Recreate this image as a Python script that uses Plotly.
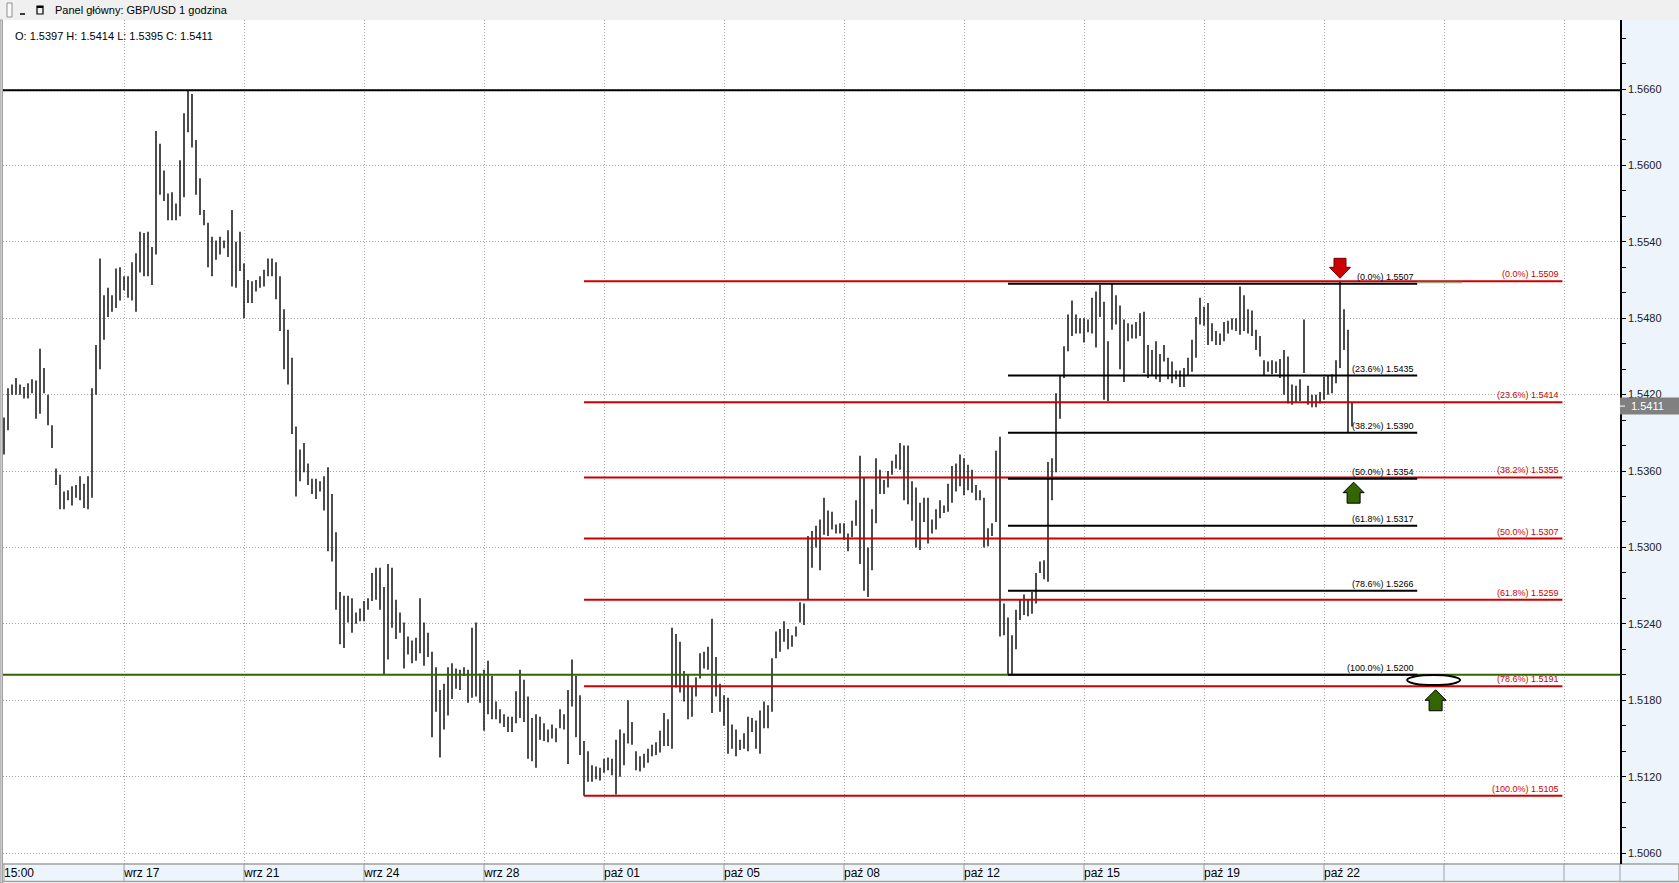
import plotly.graph_objects as go

# GBP/USD 1h bars (two-hour merged): high / low per bar
highs = [
    1.5402, 1.5425, 1.5428, 1.5433, 1.5428, 1.5426, 1.5429, 1.5432, 1.5431, 1.5456,
    1.5441, 1.5420, 1.5396, 1.5362, 1.5357, 1.5344, 1.5345, 1.5348, 1.5349, 1.5356,
    1.5350, 1.5356, 1.5425, 1.5459, 1.5527, 1.5498, 1.5504, 1.5498, 1.5519, 1.5520,
    1.5513, 1.5513, 1.5524, 1.5531, 1.5548, 1.5547, 1.5548, 1.5536, 1.5627, 1.5617,
    1.5596, 1.5578, 1.5579, 1.5570, 1.5604, 1.5641, 1.5659, 1.5656, 1.5620, 1.5590,
    1.5565, 1.5555, 1.5544, 1.5541, 1.5544, 1.5541, 1.5549, 1.5565, 1.5540, 1.5548,
    1.5523, 1.5510, 1.5509, 1.5510, 1.5513, 1.5518, 1.5527, 1.5527, 1.5524, 1.5513,
    1.5487, 1.5471, 1.5449, 1.5395, 1.5377, 1.5382, 1.5366, 1.5354, 1.5354, 1.5352,
    1.5356, 1.5363, 1.5342, 1.5312, 1.5265, 1.5262, 1.5262, 1.5260, 1.5249, 1.5252,
    1.5258, 1.5260, 1.5280, 1.5284, 1.5284, 1.5269, 1.5287, 1.5284, 1.5259, 1.5249,
    1.5241, 1.5230, 1.5227, 1.5229, 1.5260, 1.5241, 1.5233, 1.5218, 1.5206, 1.5188,
    1.5193, 1.5206, 1.5209, 1.5205, 1.5204, 1.5206, 1.5204, 1.5237, 1.5241, 1.5201,
    1.5204, 1.5211, 1.5199, 1.5179, 1.5173, 1.5169, 1.5167, 1.5167, 1.5187, 1.5204,
    1.5196, 1.5183, 1.5166, 1.5169, 1.5167, 1.5162, 1.5157, 1.5161, 1.5158, 1.5173,
    1.5169, 1.5188, 1.5212, 1.5199, 1.5184, 1.5148, 1.5140, 1.5129, 1.5128, 1.5127,
    1.5134, 1.5135, 1.5134, 1.5149, 1.5157, 1.5154, 1.5180, 1.5163, 1.5140, 1.5136,
    1.5138, 1.5142, 1.5145, 1.5147, 1.5156, 1.5170, 1.5165, 1.5237, 1.5232, 1.5226,
    1.5203, 1.5200, 1.5191, 1.5198, 1.5217, 1.5218, 1.5222, 1.5244, 1.5214, 1.5193,
    1.5184, 1.5182, 1.5161, 1.5157, 1.5149, 1.5154, 1.5167, 1.5166, 1.5164, 1.5172,
    1.5179, 1.5176, 1.5213, 1.5234, 1.5236, 1.5242, 1.5236, 1.5231, 1.5238, 1.5257,
    1.5256, 1.5309, 1.5313, 1.5317, 1.5322, 1.5339, 1.5329, 1.5328, 1.5318, 1.5319,
    1.5319, 1.5311, 1.5321, 1.5337, 1.5372, 1.5355, 1.5300, 1.5330, 1.5370, 1.5361,
    1.5353, 1.5360, 1.5368, 1.5373, 1.5382, 1.5380, 1.5380, 1.5352, 1.5347, 1.5335,
    1.5339, 1.5339, 1.5322, 1.5330, 1.5337, 1.5333, 1.5350, 1.5364, 1.5366, 1.5373,
    1.5370, 1.5365, 1.5361, 1.5349, 1.5345, 1.5339, 1.5315, 1.5319, 1.5376, 1.5387,
    1.5256, 1.5245, 1.5231, 1.5251, 1.5259, 1.5263, 1.5259, 1.5265, 1.5280, 1.5289,
    1.5290, 1.5367, 1.5370, 1.5421, 1.5435, 1.5458, 1.5483, 1.5494, 1.5483, 1.5480,
    1.5480, 1.5479, 1.5496, 1.5501, 1.5506, 1.5493, 1.5462, 1.5507, 1.5498, 1.5490,
    1.5479, 1.5476, 1.5475, 1.5477, 1.5484, 1.5485, 1.5459, 1.5455, 1.5462, 1.5452,
    1.5459, 1.5449, 1.5446, 1.5439, 1.5439, 1.5441, 1.5449, 1.5463, 1.5481, 1.5496,
    1.5489, 1.5492, 1.5476, 1.5470, 1.5468, 1.5477, 1.5478, 1.5480, 1.5480, 1.5505,
    1.5498, 1.5487, 1.5486, 1.5471, 1.5466, 1.5447, 1.5446, 1.5447, 1.5446, 1.5448,
    1.5455, 1.5450, 1.5428, 1.5427, 1.5432, 1.5479, 1.5427, 1.5420, 1.5420, 1.5422,
    1.5434, 1.5435, 1.5436, 1.5447, 1.5509, 1.5487, 1.5471, 1.5414,
]
lows = [
    1.5373, 1.5392, 1.5420, 1.5420, 1.5420, 1.5417, 1.5417, 1.5421, 1.5401, 1.5405,
    1.5421, 1.5396, 1.5378, 1.5349, 1.5330, 1.5330, 1.5337, 1.5333, 1.5339, 1.5337,
    1.5331, 1.5330, 1.5339, 1.5420, 1.5440, 1.5463, 1.5481, 1.5485, 1.5488, 1.5494,
    1.5502, 1.5496, 1.5494, 1.5485, 1.5516, 1.5513, 1.5513, 1.5506, 1.5530, 1.5577,
    1.5572, 1.5557, 1.5557, 1.5557, 1.5560, 1.5575, 1.5626, 1.5614, 1.5577, 1.5561,
    1.5553, 1.5520, 1.5513, 1.5526, 1.5530, 1.5535, 1.5528, 1.5505, 1.5504, 1.5517,
    1.5480, 1.5492, 1.5492, 1.5501, 1.5504, 1.5505, 1.5513, 1.5513, 1.5495, 1.5470,
    1.5440, 1.5428, 1.5389, 1.5340, 1.5352, 1.5359, 1.5349, 1.5342, 1.5338, 1.5344,
    1.5329, 1.5297, 1.5289, 1.5251, 1.5224, 1.5221, 1.5241, 1.5233, 1.5240, 1.5242,
    1.5242, 1.5251, 1.5258, 1.5259, 1.5251, 1.5200, 1.5212, 1.5237, 1.5228, 1.5233,
    1.5205, 1.5216, 1.5209, 1.5211, 1.5217, 1.5207, 1.5214, 1.5151, 1.5171, 1.5135,
    1.5157, 1.5168, 1.5181, 1.5189, 1.5188, 1.5199, 1.5178, 1.5182, 1.5183, 1.5178,
    1.5156, 1.5169, 1.5165, 1.5165, 1.5162, 1.5159, 1.5155, 1.5155, 1.5162, 1.5166,
    1.5163, 1.5134, 1.5132, 1.5127, 1.5149, 1.5148, 1.5147, 1.5150, 1.5147, 1.5158,
    1.5157, 1.5130, 1.5175, 1.5151, 1.5137, 1.5105, 1.5116, 1.5116, 1.5118, 1.5117,
    1.5123, 1.5125, 1.5121, 1.5106, 1.5120, 1.5129, 1.5146, 1.5145, 1.5125, 1.5124,
    1.5127, 1.5131, 1.5136, 1.5137, 1.5139, 1.5144, 1.5144, 1.5142, 1.5190, 1.5186,
    1.5179, 1.5165, 1.5167, 1.5183, 1.5197, 1.5205, 1.5204, 1.5170, 1.5183, 1.5171,
    1.5160, 1.5138, 1.5142, 1.5136, 1.5141, 1.5142, 1.5140, 1.5155, 1.5142, 1.5138,
    1.5158, 1.5158, 1.5171, 1.5213, 1.5218, 1.5226, 1.5220, 1.5222, 1.5230, 1.5241,
    1.5239, 1.5259, 1.5284, 1.5300, 1.5282, 1.5310, 1.5309, 1.5314, 1.5311, 1.5311,
    1.5306, 1.5297, 1.5308, 1.5317, 1.5287, 1.5266, 1.5261, 1.5282, 1.5319, 1.5342,
    1.5342, 1.5347, 1.5357, 1.5362, 1.5361, 1.5337, 1.5334, 1.5321, 1.5300, 1.5298,
    1.5320, 1.5303, 1.5311, 1.5314, 1.5323, 1.5327, 1.5328, 1.5335, 1.5344, 1.5348,
    1.5341, 1.5345, 1.5343, 1.5337, 1.5337, 1.5300, 1.5301, 1.5309, 1.5320, 1.5230,
    1.5231, 1.5200, 1.5200, 1.5220, 1.5243, 1.5247, 1.5246, 1.5248, 1.5256, 1.5280,
    1.5275, 1.5273, 1.5337, 1.5359, 1.5401, 1.5433, 1.5454, 1.5466, 1.5468, 1.5468,
    1.5461, 1.5469, 1.5468, 1.5457, 1.5481, 1.5416, 1.5415, 1.5471, 1.5475, 1.5440,
    1.5430, 1.5462, 1.5464, 1.5464, 1.5466, 1.5437, 1.5433, 1.5435, 1.5432, 1.5430,
    1.5446, 1.5432, 1.5429, 1.5432, 1.5426, 1.5426, 1.5435, 1.5438, 1.5449, 1.5475,
    1.5474, 1.5459, 1.5462, 1.5459, 1.5459, 1.5462, 1.5468, 1.5471, 1.5470, 1.5467,
    1.5470, 1.5468, 1.5466, 1.5455, 1.5450, 1.5435, 1.5438, 1.5436, 1.5437, 1.5433,
    1.5420, 1.5413, 1.5412, 1.5414, 1.5415, 1.5437, 1.5412, 1.5410, 1.5410, 1.5413,
    1.5416, 1.5420, 1.5421, 1.5429, 1.5441, 1.5455, 1.5390, 1.5395,
]

# last bar (header line)
last_open, last_high, last_low, last_close = 1.5397, 1.5414, 1.5395, 1.5411

x_tick_pos = [0, 30, 60, 90, 120, 150, 180, 210, 240, 270, 300, 330, 360, 390]
x_tick_text = ["15:00", "wrz 17", "wrz 21", "wrz 24", "wrz 28", "paź 01", "paź 05",
               "paź 08", "paź 12", "paź 15", "paź 19", "paź 22", "", ""]
y_tick_vals = [1.5060, 1.5120, 1.5180, 1.5240, 1.5300, 1.5360, 1.5420,
               1.5480, 1.5540, 1.5600, 1.5660]

# fibonacci retracements as labelled on the chart
red_pct = ["0.0%", "23.6%", "38.2%", "50.0%", "61.8%", "78.6%", "100.0%"]
red_levels = [1.5509, 1.5414, 1.5355, 1.5307, 1.5259, 1.5191, 1.5105]
black_pct = ["0.0%", "23.6%", "38.2%", "50.0%", "61.8%", "78.6%", "100.0%"]
black_levels = [1.5507, 1.5435, 1.5390, 1.5354, 1.5317, 1.5266, 1.5200]

resistance = 1.5659
support = 1.5200

# ---- page geometry (pixels) ----
W, H = 1679, 883
ML, MR, MT, MB = 3, 59, 20, 19
PW, PH = W - ML - MR, H - MT - MB


def px(x):
    return (x - ML) / PW


def py(y):
    return (H - MB - y) / PH


RED = "#CC0000"
GREEN = "#336600"
PANEL = "#EEF4FB"
GRID = "#A8A8A8"

red_start = lows.index(red_levels[-1])
red_end = 389.6
black_start = lows.index(black_levels[-1], 240)
black_end = 353.3
spike = max(range(300, len(highs)), key=lambda i: highs[i])
last_i = len(highs) - 1

# bars as high-low segments
bx, by = [], []
for i, (h, l) in enumerate(zip(highs, lows)):
    bx += [i, i, None]
    by += [l, h, None]

fig = go.Figure()
fig.add_trace(go.Scatter(x=bx, y=by, mode="lines", line=dict(color="black", width=1.4),
                         hoverinfo="skip", showlegend=False))

shapes = []
ann = []

# frame / panels
shapes.append(dict(type="rect", xref="paper", yref="paper", x0=px(0), x1=px(W), y0=py(MT), y1=py(0),
                   fillcolor="#F0F0F0", line=dict(width=0), layer="below"))
shapes.append(dict(type="rect", xref="paper", yref="paper", x0=1, x1=px(W), y0=py(H), y1=py(MT),
                   fillcolor=PANEL, line=dict(width=0), layer="below"))
shapes.append(dict(type="rect", xref="paper", yref="paper", x0=px(0), x1=px(W), y0=py(H - 1.5), y1=0,
                   fillcolor=PANEL, line=dict(color="#A0A0A0", width=1.5), layer="below"))
shapes.append(dict(type="rect", xref="paper", yref="paper", x0=px(0), x1=px(2.5), y0=py(H), y1=py(MT),
                   fillcolor="#D0D0D0", line=dict(color="#A0A0A0", width=1), layer="above"))
for tv in x_tick_pos:
    shapes.append(dict(type="line", xref="x", yref="paper", x0=tv, x1=tv, y0=py(H - 1.5), y1=0,
                       line=dict(color="#A0A0A0", width=1)))
shapes.append(dict(type="line", xref="paper", yref="paper", x0=1, x1=1, y0=py(H - 1.5), y1=0,
                   line=dict(color="#A0A0A0", width=1)))

# title bar icons
shapes.append(dict(type="rect", xref="paper", yref="paper", x0=px(7), x1=px(12), y0=py(17), y1=py(3),
                   fillcolor="#FAFAFA", line=dict(color="#909090", width=1)))
shapes.append(dict(type="line", xref="paper", yref="paper", x0=px(20), x1=px(25), y0=py(14), y1=py(14),
                   line=dict(color="black", width=1.5)))
shapes.append(dict(type="rect", xref="paper", yref="paper", x0=px(37), x1=px(43), y0=py(14), y1=py(6),
                   fillcolor="rgba(0,0,0,0)", line=dict(color="black", width=1.2)))
shapes.append(dict(type="line", xref="paper", yref="paper", x0=px(37), x1=px(43), y0=py(7), y1=py(7),
                   line=dict(color="black", width=2)))
ann.append(dict(x=px(53), y=py(10), xref="paper", yref="paper", xanchor="left", yanchor="middle",
                text="Panel główny: GBP/USD 1 godzina", showarrow=False,
                font=dict(size=11, color="black")))
ann.append(dict(x=px(13), y=py(36), xref="paper", yref="paper", xanchor="left", yanchor="middle",
                text=f"O: {last_open:.4f} H: {last_high:.4f} L: {last_low:.4f} C: {last_close:.4f}",
                showarrow=False, font=dict(size=11, color="black")))

# horizontal support / resistance
shapes.append(dict(type="line", xref="paper", yref="y", x0=0, x1=1, y0=resistance, y1=resistance,
                   line=dict(color="black", width=2)))
shapes.append(dict(type="line", xref="paper", yref="y", x0=0, x1=1, y0=support, y1=support,
                   line=dict(color=GREEN, width=2)))

# red fibonacci
for pct, lv in zip(red_pct, red_levels):
    shapes.append(dict(type="line", xref="x", yref="y", x0=red_start, x1=red_end, y0=lv, y1=lv,
                       line=dict(color=RED, width=2)))
    ann.append(dict(x=red_end - 0.6, y=lv, xref="x", yref="y", xanchor="right", yanchor="bottom",
                    yshift=1, text=f"({pct}) {lv:.4f}", showarrow=False, borderpad=0,
                    font=dict(size=9, color=RED)))
# black fibonacci
for pct, lv in zip(black_pct, black_levels):
    shapes.append(dict(type="line", xref="x", yref="y", x0=black_start, x1=black_end, y0=lv, y1=lv,
                       line=dict(color="black", width=2)))
    ann.append(dict(x=black_end - 0.6, y=lv, xref="x", yref="y", xanchor="right", yanchor="bottom",
                    yshift=1, text=f"({pct}) {lv:.4f}", showarrow=False, borderpad=0,
                    font=dict(size=9, color="black")))
shapes.append(dict(type="line", xref="x", yref="y", x0=black_end, x1=364.5, y0=1.5508, y1=1.5508,
                   line=dict(color="#9AAA80", width=1.5)))

# arrows and ellipse (pixel-sized, anchored on data)
down_arrow = "M0,3 L-10.5,14 L-6,14 L-6,23 L6,23 L6,14 L10.5,14 Z"
up_arrow = "M0,-3.5 L-10.5,-14 L-6.5,-14 L-6.5,-24.5 L6.5,-24.5 L6.5,-14 L10.5,-14 Z"
shapes.append(dict(type="path", xref="x", yref="y", xsizemode="pixel", ysizemode="pixel",
                   xanchor=spike, yanchor=red_levels[0], path=down_arrow,
                   fillcolor=RED, line=dict(color="#700000", width=1)))
shapes.append(dict(type="path", xref="x", yref="y", xsizemode="pixel", ysizemode="pixel",
                   xanchor=last_i + 0.4, yanchor=black_levels[3], path=up_arrow,
                   fillcolor=GREEN, line=dict(color="black", width=1)))
shapes.append(dict(type="path", xref="x", yref="y", xsizemode="pixel", ysizemode="pixel",
                   xanchor=357.9, yanchor=red_levels[5], path=up_arrow,
                   fillcolor=GREEN, line=dict(color="black", width=1)))
shapes.append(dict(type="circle", xref="x", yref="y", xsizemode="pixel", ysizemode="pixel",
                   xanchor=357.4, yanchor=1.51958, x0=-26.5, x1=26.5, y0=-5, y1=5,
                   fillcolor="white", line=dict(color="black", width=2)))

# current price marker on the axis
shapes.append(dict(type="rect", xref="paper", yref="y", x0=1, x1=px(W), ysizemode="pixel",
                   yanchor=last_close, y0=-8.5, y1=8.5, fillcolor="#808080",
                   line=dict(width=0), layer="above"))
shapes.append(dict(type="line", xref="paper", yref="y", x0=1, x1=px(1625), y0=last_close, y1=last_close,
                   line=dict(color="white", width=1), layer="above"))
ann.append(dict(x=px(1629), y=last_close, xref="paper", yref="y", xanchor="left", yanchor="middle",
                text=f"{last_close:.4f}", showarrow=False, font=dict(size=11, color="white")))

fig.update_layout(
    template="none",
    width=W, height=H,
    margin=dict(l=ML, r=MR, t=MT, b=MB, pad=0),
    paper_bgcolor="white", plot_bgcolor="white",
    showlegend=False,
    font=dict(family="Liberation Sans, Arial, sans-serif", size=11, color="black"),
    shapes=shapes, annotations=ann,
    xaxis=dict(range=[-0.25, 404], tickmode="array", tickvals=x_tick_pos, ticktext=x_tick_text,
               ticks="", ticklabelposition="outside right", showgrid=True, gridcolor=GRID,
               griddash="1px,2px", gridwidth=1, zeroline=False, showline=False, automargin=False,
               tickfont=dict(family="Liberation Sans Narrow, Liberation Sans, Arial", size=12,
                             color="black")),
    yaxis=dict(range=[1.50514, 1.57142], side="right", tickmode="array", tickvals=y_tick_vals,
               tickformat=".4f", ticks="outside", ticklen=4, tickcolor="black", tickwidth=1,
               showgrid=True, gridcolor=GRID, griddash="1px,2px", gridwidth=1, zeroline=False,
               showline=True, linecolor="black", linewidth=1.5, automargin=False,
               minor=dict(tickmode="linear", tick0=1.5060, dtick=0.002, ticks="outside", ticklen=4,
                          tickcolor="black", showgrid=False),
               tickfont=dict(size=11, color="#202020")),
)

fig.write_html("out.html", config={"displayModeBar": False},
               post_script="document.body.style.margin='0';document.body.style.overflow='hidden';")
